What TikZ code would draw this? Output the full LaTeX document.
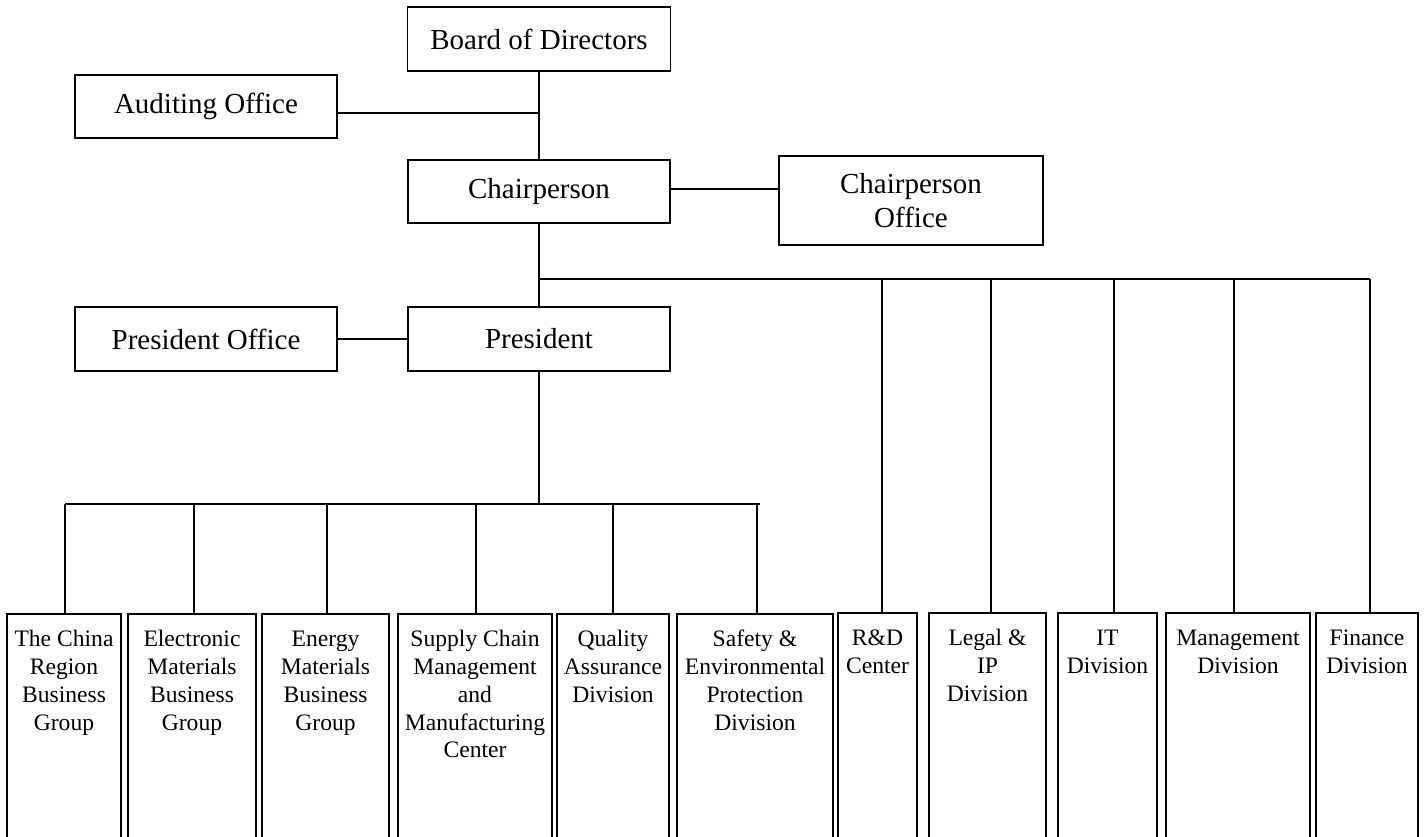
\documentclass[tikz,border=0pt]{standalone}
\usepackage{fontspec}
\setmainfont{Liberation Serif}
\begin{document}
\begin{tikzpicture}[x=1pt,y=-1pt,
  topbox/.style={draw, line width=1.8pt, inner sep=0pt, align=center,
    font=\fontsize{29}{33.5}\selectfont},
  botbox/.style={draw, line width=1.8pt, inner sep=0pt, align=center, anchor=north,
    minimum height=0pt, font=\fontsize{23.6}{27.7}\selectfont},
  ltwo/.style={botbox, text height=60.7pt, text depth=166.3pt},
  lthree/.style={botbox, text height=88.4pt, text depth=138.6pt},
  lfour/.style={botbox, text height=116.1pt, text depth=110.9pt},
  lfive/.style={botbox, text height=143.8pt, text depth=83.2pt},
  conn/.style={line width=1.6pt}]
\useasboundingbox (0,0) rectangle (1424,836);
% upper boxes
\node[topbox, minimum width=263pt, minimum height=64pt] (board) at (539,39) {Board of Directors};
\node[topbox, minimum width=262pt, minimum height=63pt] (audit) at (206,106.5) {Auditing Office};
\node[topbox, minimum width=262pt, minimum height=63pt] (chair) at (539,191.5) {Chairperson};
\node[topbox, minimum width=264pt, minimum height=89pt] (choff) at (911,200.5) {Chairperson\\Office};
\node[topbox, minimum width=262pt, minimum height=64pt] (poff) at (206,339) {President Office};
\node[topbox, minimum width=262pt, minimum height=64pt] (pres) at (539,339) {President};
% lower boxes
\node[lfour, minimum width=114pt] (b1) at (64,613) {The China\\Region\\Business\\Group};
\node[lfour, minimum width=128pt] (b2) at (192,613) {Electronic\\Materials\\Business\\Group};
\node[lfour, minimum width=127pt] (b3) at (325.5,613) {Energy\\Materials\\Business\\Group};
\node[lfive, minimum width=154pt] (b4) at (475,613) {Supply Chain\\Management\\and\\Manufacturing\\Center};
\node[lthree, minimum width=112pt] (b5) at (613,613) {Quality\\Assurance\\Division};
\node[lfour, minimum width=156pt] (b6) at (755,613) {Safety \&\\Environmental\\Protection\\Division};
\node[ltwo, minimum width=79pt] (b7) at (877.5,612) {R\&D\\Center};
\node[lthree, minimum width=117pt] (b8) at (987.5,612) {Legal \&\\IP\\Division};
\node[ltwo, minimum width=99pt] (b9) at (1107.5,612) {IT\\Division};
\node[ltwo, minimum width=144pt] (b10) at (1238,612) {Management\\Division};
\node[ltwo, minimum width=102pt] (b11) at (1367,612) {Finance\\Division};
% junction coordinates
\coordinate (ja) at (539,113);
\coordinate (jc) at (725,189);
\coordinate (cb) at (539,279);
\coordinate (pb) at (539,504);
\coordinate (pbend) at (760,504);
% connectors
\draw[conn] (board.south) -- (chair.north);
\draw[conn] (audit.east |- ja) -- (ja);
\draw[conn] (chair.east |- jc) -- (choff.west |- jc);
\draw[conn] (chair.south) -- (pres.north);
\draw[conn] (poff.east) -- (pres.west);
\draw[conn] (pres.south) -- (pb);
\draw[conn] (cb) -- ([xshift=3pt]b11.north |- cb);
\draw[conn] ([xshift=1pt]b1.north |- pb) -- (pbend);
\draw[conn] ([xshift=1pt]b1.north) -- ([xshift=1pt]b1.north |- pb);
\draw[conn] ([xshift=2pt]b2.north) -- ([xshift=2pt]b2.north |- pb);
\draw[conn] ([xshift=1.5pt]b3.north) -- ([xshift=1.5pt]b3.north |- pb);
\draw[conn] ([xshift=1pt]b4.north) -- ([xshift=1pt]b4.north |- pb);
\draw[conn] (b5.north) -- (b5.north |- pb);
\draw[conn] ([xshift=2pt]b6.north) -- ([xshift=2pt]b6.north |- pb);
\draw[conn] ([xshift=4.5pt]b7.north) -- ([xshift=4.5pt]b7.north |- cb);
\draw[conn] ([xshift=3.5pt]b8.north) -- ([xshift=3.5pt]b8.north |- cb);
\draw[conn] ([xshift=6.5pt]b9.north) -- ([xshift=6.5pt]b9.north |- cb);
\draw[conn] ([xshift=-4pt]b10.north) -- ([xshift=-4pt]b10.north |- cb);
\draw[conn] ([xshift=3pt]b11.north) -- ([xshift=3pt]b11.north |- cb);
\end{tikzpicture}
\end{document}
